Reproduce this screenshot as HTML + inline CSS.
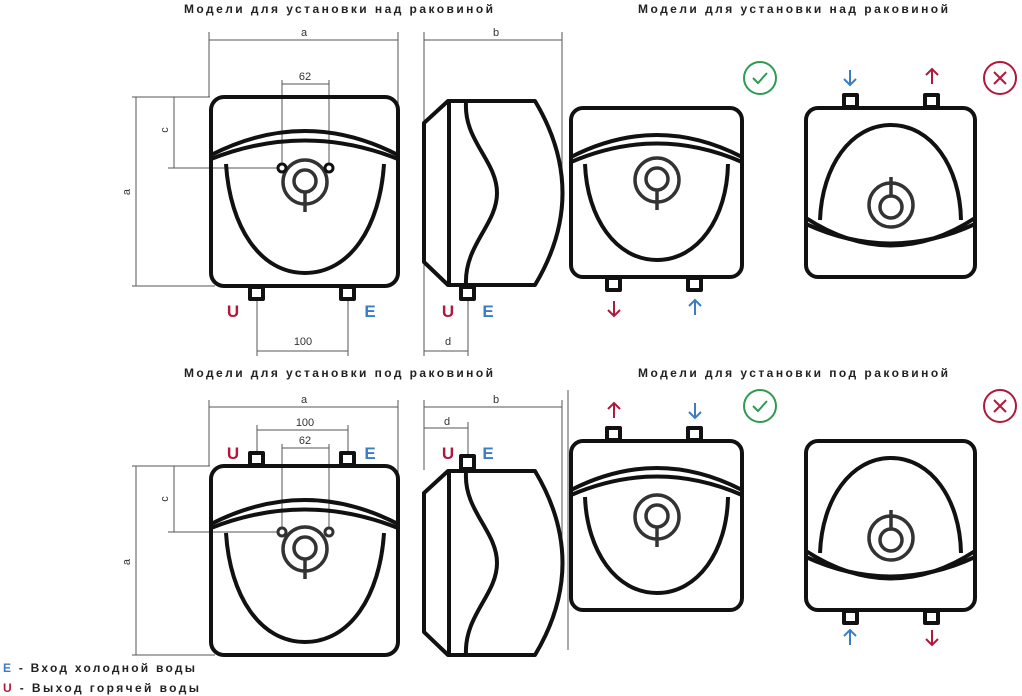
<!DOCTYPE html>
<html><head><meta charset="utf-8"><style>
html,body{margin:0;padding:0;background:#fff;width:1022px;height:696px;overflow:hidden}
svg{display:block}
.t{font-family:"Liberation Sans","DejaVu Sans",sans-serif;font-weight:bold;font-size:12px;fill:#222}
.d{font-family:"Liberation Sans","DejaVu Sans",sans-serif;font-size:11px;fill:#333}
.L{font-family:"Liberation Sans","DejaVu Sans",sans-serif;font-weight:bold;font-size:17px}
.dim{stroke:#555;stroke-width:1;fill:none}
.k{stroke:#111;stroke-width:4;fill:none;stroke-linejoin:round}
.kn{stroke:#333;stroke-width:3.5;fill:none}
</style></head><body>
<svg width="1022" height="696" viewBox="0 0 1022 696" xmlns="http://www.w3.org/2000/svg">
<defs>
<g id="front">
  <rect x="211" y="0" width="187" height="189" rx="13" class="k"/>
  <path d="M211,58 Q305,10 398,58" class="k"/>
  <path d="M211,62 Q305,25 398,62" class="k" stroke-width="3.5"/>
  <path d="M226,67 C230,130 260,176 305,176 C350,176 380,130 384,67" class="k" stroke-width="3.5"/>
</g>
<g id="knobF">
  <circle cx="0" cy="0" r="22" class="kn"/>
  <circle cx="0" cy="-1" r="11" class="kn"/>
  <line x1="0" y1="10" x2="0" y2="30" class="kn"/>
</g>
<g id="side">
  <path d="M448,0 L535,0 Q590,92 535,184 L448,184 L424,161 L424,22 Z" class="k"/>
  <line x1="449" y1="0" x2="449" y2="184" class="k"/>
  <path d="M466,2 C464,40 497,60 497,92 C497,124 464,144 466,184" class="k" stroke-width="3.5"/>
</g>
<g id="small">
  <rect x="0" y="0" width="171" height="169" rx="12" class="k"/>
  <path d="M0,49 Q86,5 171,49" class="k" stroke-width="3.5"/>
  <path d="M0,54 Q86,17 171,54" class="k" stroke-width="3.5"/>
  <path d="M14,56 C16,110 45,152 86,152 C127,152 156,110 157,56" class="k" stroke-width="3.5"/>
</g>
<g id="smallInv">
  <rect x="0" y="0" width="169" height="169" rx="12" class="k"/>
  <path d="M14,112 C16,58 45,17 85,17 C125,17 154,58 155,112" class="k" stroke-width="3.5"/>
  <path d="M0,110 Q85,165 169,110" class="k" stroke-width="3.5"/>
  <path d="M0,116 Q85,155 169,116" class="k" stroke-width="3.5"/>
  <circle cx="85" cy="97" r="22" class="kn"/>
  <circle cx="85" cy="99" r="11" class="kn"/>
  <line x1="85" y1="88" x2="85" y2="69" class="kn"/>
</g>
<g id="ok"><circle cx="0" cy="0" r="16" fill="none" stroke="#2e9a52" stroke-width="2"/><path d="M-7,0 L-2,5 L7,-5" fill="none" stroke="#2e9a52" stroke-width="2"/></g>
<g id="no"><circle cx="0" cy="0" r="16" fill="none" stroke="#b0183c" stroke-width="2"/><path d="M-6,-6 L6,6 M6,-6 L-6,6" fill="none" stroke="#b0183c" stroke-width="2"/></g>
<g id="up"><path d="M0,16 L0,1 M-6,7 L0,1 L6,7" fill="none" stroke-width="2"/></g>
<g id="dn"><path d="M0,0 L0,15 M-6,9 L0,15 L6,9" fill="none" stroke-width="2"/></g>
</defs>

<text x="184" y="13" class="t" textLength="309" lengthAdjust="spacing">Модели для установки над раковиной</text>
<text x="638" y="13" class="t" textLength="310" lengthAdjust="spacing">Модели для установки над раковиной</text>
<text x="184" y="377" class="t" textLength="309" lengthAdjust="spacing">Модели для установки под раковиной</text>
<text x="638" y="377" class="t" textLength="310" lengthAdjust="spacing">Модели для установки под раковиной</text>

<g class="dim">
  <line x1="209" y1="32" x2="209" y2="97"/><line x1="398" y1="32" x2="398" y2="152"/>
  <line x1="209" y1="40" x2="398" y2="40"/>
  <line x1="132" y1="97" x2="210" y2="97"/><line x1="132" y1="286" x2="215" y2="286"/>
  <line x1="136" y1="97" x2="136" y2="286"/>
  <line x1="174" y1="97" x2="174" y2="168"/><line x1="168" y1="168" x2="280" y2="168"/>
  <line x1="282" y1="80" x2="282" y2="165"/><line x1="329" y1="80" x2="329" y2="165"/>
  <line x1="282" y1="84" x2="329" y2="84"/>
  <line x1="257" y1="299" x2="257" y2="356"/><line x1="348" y1="299" x2="348" y2="356"/>
  <line x1="257" y1="351" x2="348" y2="351"/>
</g>
<text x="304" y="36" class="d" text-anchor="middle">a</text>
<text x="305" y="80" class="d" text-anchor="middle">62</text>
<text x="303" y="345" class="d" text-anchor="middle">100</text>
<text x="130" y="192" class="d" text-anchor="middle" transform="rotate(-90 130 192)">a</text>
<text x="168" y="130" class="d" text-anchor="middle" transform="rotate(-90 168 130)">c</text>
<use href="#front" transform="translate(0,97)"/>
<use href="#knobF" transform="translate(305,182)"/>
<circle cx="282" cy="168" r="4" fill="#fff" stroke="#111" stroke-width="3"/>
<circle cx="329" cy="168" r="4" fill="#fff" stroke="#111" stroke-width="3"/>
<rect x="250" y="287" width="13" height="12" class="k" stroke-width="3"/>
<rect x="341" y="287" width="13" height="12" class="k" stroke-width="3"/>
<text x="233" y="317" class="L" fill="#b0183c" text-anchor="middle">U</text>
<text x="370" y="317" class="L" fill="#3b7dc4" text-anchor="middle">E</text>

<g class="dim">
  <line x1="424" y1="32" x2="424" y2="356"/><line x1="562" y1="32" x2="562" y2="190"/>
  <line x1="424" y1="40" x2="562" y2="40"/>
  <line x1="468" y1="299" x2="468" y2="356"/><line x1="424" y1="351" x2="468" y2="351"/>
</g>
<text x="496" y="36" class="d" text-anchor="middle">b</text>
<text x="448" y="345" class="d" text-anchor="middle">d</text>
<use href="#side" transform="translate(0,101)"/>
<rect x="461" y="287" width="13" height="12" class="k" stroke-width="3"/>
<text x="448" y="317" class="L" fill="#b0183c" text-anchor="middle">U</text>
<text x="488" y="317" class="L" fill="#3b7dc4" text-anchor="middle">E</text>

<use href="#small" transform="translate(571,108)"/>
<use href="#knobF" transform="translate(657,180)"/>
<rect x="607" y="278" width="13" height="12" class="k" stroke-width="3"/>
<rect x="688" y="278" width="13" height="12" class="k" stroke-width="3"/>
<use href="#dn" transform="translate(614,301)" stroke="#b0183c"/>
<use href="#up" transform="translate(695,299)" stroke="#3b7dc4"/>
<use href="#ok" transform="translate(760,78)"/>
<use href="#smallInv" transform="translate(806,108)"/>
<rect x="844" y="95" width="13" height="12" class="k" stroke-width="3"/>
<rect x="925" y="95" width="13" height="12" class="k" stroke-width="3"/>
<use href="#dn" transform="translate(850,70)" stroke="#3b7dc4"/>
<use href="#up" transform="translate(932,68)" stroke="#b0183c"/>
<use href="#no" transform="translate(1000,78)"/>

<g class="dim">
  <line x1="209" y1="400" x2="209" y2="466"/><line x1="398" y1="400" x2="398" y2="530"/>
  <line x1="209" y1="407" x2="398" y2="407"/>
  <line x1="257" y1="425" x2="257" y2="453"/><line x1="348" y1="425" x2="348" y2="453"/>
  <line x1="257" y1="430" x2="348" y2="430"/>
  <line x1="282" y1="444" x2="282" y2="530"/><line x1="329" y1="444" x2="329" y2="530"/>
  <line x1="282" y1="448" x2="329" y2="448"/>
  <line x1="132" y1="466" x2="210" y2="466"/><line x1="132" y1="655" x2="215" y2="655"/>
  <line x1="136" y1="466" x2="136" y2="655"/>
  <line x1="174" y1="466" x2="174" y2="532"/><line x1="168" y1="532" x2="280" y2="532"/>
</g>
<text x="304" y="403" class="d" text-anchor="middle">a</text>
<text x="305" y="426" class="d" text-anchor="middle">100</text>
<text x="305" y="444" class="d" text-anchor="middle">62</text>
<text x="130" y="562" class="d" text-anchor="middle" transform="rotate(-90 130 562)">a</text>
<text x="168" y="499" class="d" text-anchor="middle" transform="rotate(-90 168 499)">c</text>
<use href="#front" transform="translate(0,466)"/>
<use href="#knobF" transform="translate(305,549)"/>
<circle cx="282" cy="532" r="4" fill="#fff" stroke="#333" stroke-width="3"/>
<circle cx="329" cy="532" r="4" fill="#fff" stroke="#333" stroke-width="3"/>
<rect x="250" y="453" width="13" height="12" class="k" stroke-width="3"/>
<rect x="341" y="453" width="13" height="12" class="k" stroke-width="3"/>
<text x="233" y="459" class="L" fill="#b0183c" text-anchor="middle">U</text>
<text x="370" y="459" class="L" fill="#3b7dc4" text-anchor="middle">E</text>

<g class="dim">
  <line x1="424" y1="400" x2="424" y2="470"/><line x1="562" y1="400" x2="562" y2="560"/>
  <line x1="424" y1="407" x2="562" y2="407"/>
  <line x1="468" y1="422" x2="468" y2="455"/><line x1="424" y1="428" x2="468" y2="428"/>
  <line x1="568" y1="390" x2="568" y2="650"/>
</g>
<text x="496" y="403" class="d" text-anchor="middle">b</text>
<text x="447" y="425" class="d" text-anchor="middle">d</text>
<use href="#side" transform="translate(0,471)"/>
<rect x="461" y="456" width="13" height="13" class="k" stroke-width="3"/>
<text x="448" y="459" class="L" fill="#b0183c" text-anchor="middle">U</text>
<text x="488" y="459" class="L" fill="#3b7dc4" text-anchor="middle">E</text>

<use href="#small" transform="translate(571,441)"/>
<use href="#knobF" transform="translate(657,517)"/>
<rect x="607" y="428" width="13" height="12" class="k" stroke-width="3"/>
<rect x="688" y="428" width="13" height="12" class="k" stroke-width="3"/>
<use href="#up" transform="translate(614,402)" stroke="#b0183c"/>
<use href="#dn" transform="translate(695,403)" stroke="#3b7dc4"/>
<use href="#ok" transform="translate(760,406)"/>
<use href="#smallInv" transform="translate(806,441)"/>
<rect x="844" y="611" width="13" height="12" class="k" stroke-width="3"/>
<rect x="925" y="611" width="13" height="12" class="k" stroke-width="3"/>
<use href="#up" transform="translate(850,629)" stroke="#3b7dc4"/>
<use href="#dn" transform="translate(932,630)" stroke="#b0183c"/>
<use href="#no" transform="translate(1000,406)"/>

<text x="3" y="672" class="t" textLength="192" lengthAdjust="spacing"><tspan fill="#3b7dc4">E</tspan> - Вход холодной воды</text>
<text x="3" y="692" class="t" textLength="196" lengthAdjust="spacing"><tspan fill="#b0183c">U</tspan> - Выход горячей воды</text>
</svg>
</body></html>
